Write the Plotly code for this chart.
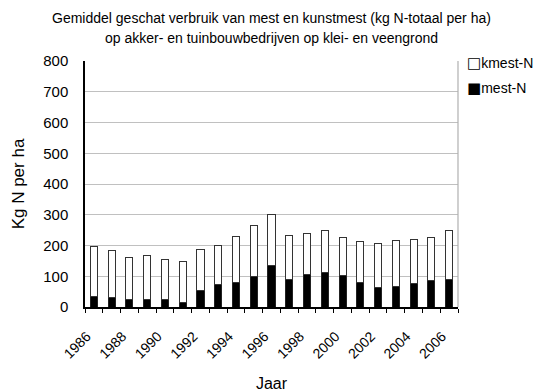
import plotly.graph_objects as go

years = list(range(1986, 2007))
totaal = [197, 184, 162, 168, 154, 148, 187, 201, 230, 265, 300, 233,
          240, 248, 226, 213, 205, 215, 219, 226, 248]
mest_n = [34, 32, 24, 24, 24, 16, 55, 73, 80, 98, 135, 91,
          105, 113, 101, 80, 63, 66, 77, 85, 88]
kmest_n = [t - m for t, m in zip(totaal, mest_n)]
y_ticks = list(range(0, 801, 100))
x_labels = [y for y in years if y % 2 == 0]
title_lines = [
    "Gemiddel geschat verbruik van mest en kunstmest (kg N-totaal per ha)",
    "op akker- en tuinbouwbedrijven op klei- en veengrond",
]
legend_items = [("□", "kmest-N"), ("■", "mest-N")]

font = "Liberation Sans"
W, H, L, R, T, B = 539, 392, 85, 81, 61, 85
plot_w, plot_h = W - L - R, H - T - B

fig = go.Figure()
fig.add_trace(go.Bar(
    x=years, y=mest_n, name="mest-N",
    marker=dict(color="black", line=dict(color="#222222", width=1)),
    width=0.4,
))
fig.add_trace(go.Bar(
    x=years, y=kmest_n, name="kmest-N",
    marker=dict(color="white", line=dict(color="#333333", width=1)),
    width=0.4,
))

# two-line title, each line centred above the plot
for line, ypx in zip(title_lines, [18, 38]):
    fig.add_annotation(text=line, xref="paper", yref="paper",
                       x=0.5, y=1 + (T - ypx) / plot_h,
                       xanchor="center", yanchor="middle", showarrow=False,
                       font=dict(family=font, size=14, color="black"))

# compact legend to the right of the plot
for (sym, name), ypx in zip(legend_items, [63, 88]):
    fig.add_annotation(text=f"<span style='font-family:DejaVu Sans;font-size:15px'>{sym}</span>{name}",
                       xref="paper", yref="paper",
                       x=1 + (465 - (W - R)) / plot_w, y=1 - (ypx - T) / plot_h,
                       xanchor="left", yanchor="middle", showarrow=False,
                       font=dict(family=font, size=14, color="black"))

fig.update_layout(
    barmode="stack",
    width=W, height=H,
    margin=dict(l=L, r=R, t=T, b=B, autoexpand=False),
    paper_bgcolor="white", plot_bgcolor="white",
    font=dict(family=font, size=13, color="black"),
    showlegend=False,
    xaxis=dict(
        range=[1985.5, 2006.5], automargin=False,
        tickmode="array", tickvals=x_labels, ticktext=[str(v) for v in x_labels],
        tickangle=-45, ticks="", showgrid=False,
        ticklabelstandoff=14, ticklabelshift=-7,
        showline=True, linecolor="black", linewidth=1.5,
        minor=dict(ticks="outside", tick0=1985.5, dtick=1, ticklen=4,
                   tickcolor="black", showgrid=False),
        title=dict(text="Jaar", font=dict(size=16), standoff=21),
        tickfont=dict(size=14),
    ),
    yaxis=dict(
        range=[0, 800], automargin=False,
        tickmode="linear", tick0=0, dtick=100,
        showgrid=True, gridcolor="#c0c0c0", gridwidth=1.2,
        showline=True, linecolor="black", linewidth=1.5,
        ticks="", zeroline=False, ticklabelstandoff=12,
        title=dict(text="Kg N per ha", font=dict(size=17), standoff=14),
        tickfont=dict(size=15),
    ),
)

# right edge of the plotting area
fig.add_shape(type="line", xref="paper", yref="paper", x0=1, x1=1, y0=0, y1=1,
              line=dict(color="#b0b0b0", width=1.2))

fig.write_html("out.html")
